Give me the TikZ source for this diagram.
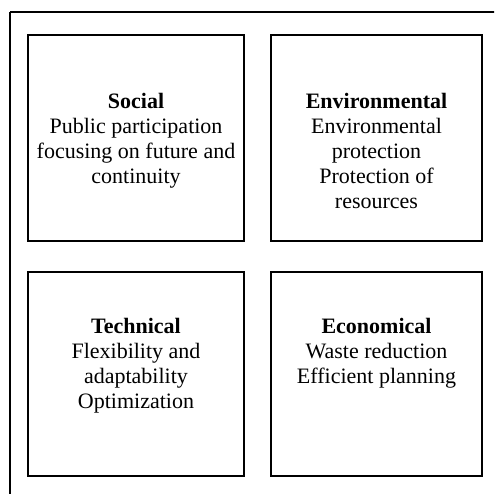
\documentclass[tikz,border=0pt]{standalone}
\usepackage{fontspec}
\setmainfont{Liberation Serif}
\usetikzlibrary{positioning}

\begin{document}
\begin{tikzpicture}[x=1pt, y=-1pt, line width=2pt,
	block/.style={draw, rectangle, inner sep=0pt},
	blocktext/.style={anchor=north, align=center, inner sep=0pt, font=\fontsize{22}{25}\selectfont}]
	\useasboundingbox (0,0) rectangle (494,494);
	\clip (0,0) rectangle (494,494);
	% outer frame, only its top and left edges are visible
	\coordinate (framecorner) at (10,12);
	\draw (framecorner) -- ++(0,500) (framecorner) -- ++(500,0);
	% the four boxes
	\node[block, minimum width=216pt, minimum height=206pt] (social) at (136,138) {};
	\node[block, minimum width=211pt, minimum height=206pt] (env) [right=25pt of social] {};
	\node[block, minimum width=216pt, minimum height=204pt] (tech) [below=29pt of social] {};
	\node[block, minimum width=211pt, minimum height=204pt] (econ) [below=29pt of env] {};
	% texts
	\node[blocktext] (socialtext) at ([yshift=-58pt]social.north) {\textbf{Social}\\Public participation\\focusing on future and\\continuity};
	\node[blocktext] (envtext) at ([yshift=-58pt]env.north) {\textbf{Environmental}\\Environmental\\protection\\Protection of\\resources};
	\node[blocktext] (techtext) at ([yshift=-46pt]tech.north) {\textbf{Technical}\\Flexibility and\\adaptability\\Optimization};
	\node[blocktext] (econtext) at ([yshift=-46pt]econ.north) {\textbf{Economical}\\Waste reduction\\Efficient planning};
\end{tikzpicture}
\end{document}
